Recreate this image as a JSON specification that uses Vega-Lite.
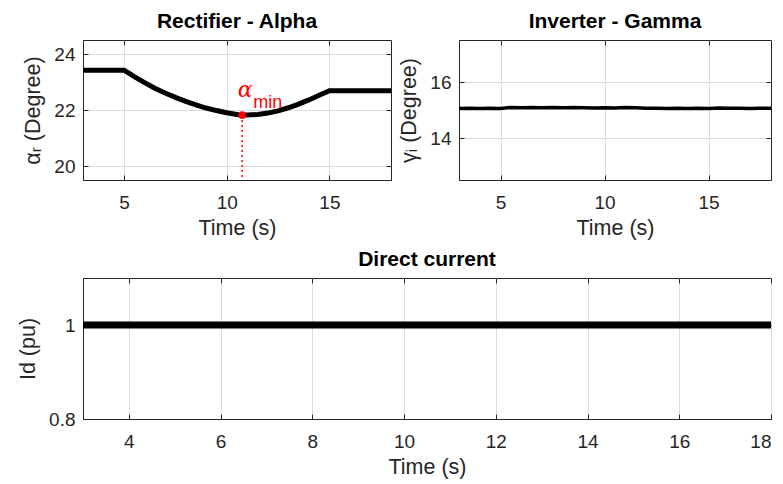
{
  "$schema": "https://vega.github.io/schema/vega-lite/v6.json",
  "background": "white",
  "padding": {"left": 17, "top": 10, "right": 5, "bottom": 5},
  "config": {
    "view": {"stroke": "#262626", "strokeWidth": 1},
    "font": "Liberation Sans",
    "title": {"font": "Liberation Sans", "fontSize": 21, "fontWeight": "bold", "color": "#000000", "offset": 8},
    "axis": {
      "labelFont": "Liberation Sans", "labelFontSize": 19, "labelColor": "#262626",
      "titleFont": "Liberation Sans", "titleFontSize": 21.5, "titleFontWeight": "normal", "titleColor": "#262626",
      "domainColor": "#262626", "tickColor": "#262626", "tickSize": -5,
      "gridColor": "#dcdcdc", "gridWidth": 1
    },
    "axisX": {"labelPadding": 18, "titlePadding": 5},
    "axisY": {"labelPadding": 13, "titlePadding": 9}
  },
  "datasets": {
    "alpha": [
      {"t": 3, "v": 23.42}, {"t": 5, "v": 23.42}, {"t": 5.5, "v": 23.19}, {"t": 6, "v": 22.98},
      {"t": 6.5, "v": 22.78}, {"t": 7, "v": 22.61}, {"t": 7.5, "v": 22.45}, {"t": 8, "v": 22.31},
      {"t": 8.5, "v": 22.18}, {"t": 9, "v": 22.07}, {"t": 9.5, "v": 21.98}, {"t": 10, "v": 21.9},
      {"t": 10.5, "v": 21.84}, {"t": 10.75, "v": 21.82}, {"t": 11, "v": 21.82}, {"t": 11.5, "v": 21.84},
      {"t": 12, "v": 21.89}, {"t": 12.5, "v": 21.97}, {"t": 13, "v": 22.08}, {"t": 13.5, "v": 22.21},
      {"t": 14, "v": 22.36}, {"t": 14.5, "v": 22.53}, {"t": 15, "v": 22.69}, {"t": 18, "v": 22.69}
    ],
    "amin": [{"t": 10.75, "v": 21.82, "lo": 19.5}],
    "gamma": [
      {"t": 3, "v": 15.05}, {"t": 3.5, "v": 15.06}, {"t": 4, "v": 15.05}, {"t": 4.5, "v": 15.06},
      {"t": 5, "v": 15.05}, {"t": 5.5, "v": 15.09}, {"t": 6, "v": 15.08}, {"t": 6.5, "v": 15.09},
      {"t": 7, "v": 15.08}, {"t": 7.5, "v": 15.09}, {"t": 8, "v": 15.08}, {"t": 8.5, "v": 15.09},
      {"t": 9, "v": 15.08}, {"t": 9.5, "v": 15.07}, {"t": 10, "v": 15.08}, {"t": 10.5, "v": 15.07},
      {"t": 11, "v": 15.09}, {"t": 11.5, "v": 15.08}, {"t": 12, "v": 15.06}, {"t": 12.5, "v": 15.06},
      {"t": 13, "v": 15.05}, {"t": 13.5, "v": 15.06}, {"t": 14, "v": 15.05}, {"t": 14.5, "v": 15.06},
      {"t": 15, "v": 15.05}, {"t": 15.5, "v": 15.07}, {"t": 16, "v": 15.06}, {"t": 16.5, "v": 15.06},
      {"t": 17, "v": 15.05}, {"t": 17.5, "v": 15.06}, {"t": 18, "v": 15.06}
    ],
    "idc": [{"t": 3, "v": 1}, {"t": 18, "v": 1}]
  },
  "spacing": 9,
  "vconcat": [
    {
      "spacing": 6,
      "hconcat": [
        {
          "width": 308, "height": 140,
          "title": "Rectifier - Alpha",
          "resolve": {"axis": {"x": "independent", "y": "independent"}},
          "layer": [
            {
              "encoding": {
                "x": {"field": "t", "type": "quantitative", "scale": {"domain": [3, 18], "nice": false, "zero": false}, "axis": {"values": [5, 10, 15], "title": "Time (s)"}},
                "y": {"field": "v", "type": "quantitative", "scale": {"domain": [19.5, 24.5], "nice": false, "zero": false}, "axis": {"values": [20, 22, 24], "title": "αᵣ (Degree)"}}
              },
              "layer": [
                {"data": {"name": "alpha"}, "mark": {"type": "line", "color": "#000000", "strokeWidth": 5, "clip": true}},
                {"data": {"name": "amin"}, "mark": {"type": "rule", "color": "#ff0000", "strokeDash": [2, 3], "strokeWidth": 1.5}, "encoding": {"y2": {"field": "lo"}}},
                {"data": {"name": "amin"}, "mark": {"type": "point", "filled": true, "color": "#ff0000", "size": 60, "opacity": 1}},
                {"data": {"name": "amin"}, "mark": {"type": "text", "text": "α", "color": "#ff0000", "font": "DejaVu Serif", "fontStyle": "italic", "fontSize": 22, "align": "center", "dx": 3, "dy": -25}},
                {"data": {"name": "amin"}, "mark": {"type": "text", "text": "min", "color": "#ff0000", "font": "Liberation Sans", "fontSize": 18, "align": "left", "dx": 11, "dy": -12}}
              ]
            },
            {
              "data": {"name": "alpha"},
              "mark": {"type": "line", "opacity": 0},
              "encoding": {
                "x": {"field": "t", "type": "quantitative", "axis": {"orient": "top", "values": [5, 10, 15], "labels": false, "title": null, "grid": false, "domain": false}},
                "y": {"field": "v", "type": "quantitative", "axis": {"orient": "right", "values": [20, 22, 24], "labels": false, "title": null, "grid": false, "domain": false}}
              }
            }
          ]
        },
        {
          "width": 312, "height": 140,
          "title": "Inverter - Gamma",
          "data": {"name": "gamma"},
          "resolve": {"axis": {"x": "independent", "y": "independent"}},
          "layer": [
            {
              "mark": {"type": "line", "color": "#000000", "strokeWidth": 3.5, "clip": true},
              "encoding": {
                "x": {"field": "t", "type": "quantitative", "scale": {"domain": [3, 18], "nice": false, "zero": false}, "axis": {"values": [5, 10, 15], "title": "Time (s)"}},
                "y": {"field": "v", "type": "quantitative", "scale": {"domain": [12.5, 17.5], "nice": false, "zero": false}, "axis": {"values": [14, 16], "title": "γᵢ (Degree)"}}
              }
            },
            {
              "mark": {"type": "line", "opacity": 0},
              "encoding": {
                "x": {"field": "t", "type": "quantitative", "axis": {"orient": "top", "values": [5, 10, 15], "labels": false, "title": null, "grid": false, "domain": false}},
                "y": {"field": "v", "type": "quantitative", "axis": {"orient": "right", "values": [14, 16], "labels": false, "title": null, "grid": false, "domain": false}}
              }
            }
          ]
        }
      ]
    },
    {
      "width": 688, "height": 141,
      "title": "Direct current",
      "data": {"name": "idc"},
      "resolve": {"axis": {"x": "independent", "y": "independent"}},
      "layer": [
        {
          "mark": {"type": "line", "color": "#000000", "strokeWidth": 7, "clip": true},
          "encoding": {
            "x": {"field": "t", "type": "quantitative", "scale": {"domain": [3, 18], "nice": false, "zero": false}, "axis": {"values": [4, 6, 8, 10, 12, 14, 16, 18], "title": "Time (s)"}},
            "y": {"field": "v", "type": "quantitative", "scale": {"domain": [0.8, 1.1], "nice": false, "zero": false}, "axis": {"values": [0.8, 1], "title": "Id (pu)", "format": "~g"}}
          }
        },
        {
          "mark": {"type": "line", "opacity": 0},
          "encoding": {
            "x": {"field": "t", "type": "quantitative", "axis": {"orient": "top", "values": [4, 6, 8, 10, 12, 14, 16, 18], "labels": false, "title": null, "grid": false, "domain": false}},
            "y": {"field": "v", "type": "quantitative", "axis": {"orient": "right", "values": [0.8, 1], "labels": false, "title": null, "grid": false, "domain": false}}
          }
        }
      ]
    }
  ]
}
